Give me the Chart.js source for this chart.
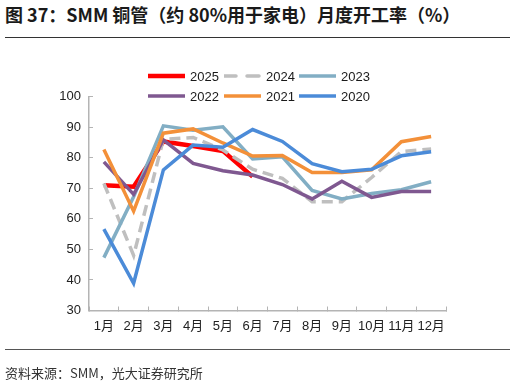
<!DOCTYPE html>
<html>
<head>
<meta charset="utf-8">
<script src="https://cdn.jsdelivr.net/npm/chart.js@4"></script>
<style>
  body { margin: 0; background: #fff; }
  #wrap { position: relative; width: 515px; height: 382px; overflow: hidden; font-family: "Liberation Sans", "Noto Sans CJK SC", sans-serif; }
  #title { position: absolute; left: 5px; top: 3px; font-family: "Noto Sans CJK SC", sans-serif; font-size: 18px; font-weight: bold; color: #1a1a1a; line-height: 22px; white-space: nowrap; }
  .rule { position: absolute; left: 5px; width: 505px; height: 0; border-top: 1px solid #333; }
  #source { position: absolute; left: 5px; top: 364px; font-family: "Noto Sans CJK SC", sans-serif; font-size: 13px; color: #333; line-height: 18px; white-space: nowrap; }
  #legend { position: absolute; left: 148px; top: 66px; display: grid; grid-template-columns: 76px 75px 75px; row-gap: 0; z-index: 2; }
  .item { display: flex; align-items: center; height: 20px; font-size: 13px; color: #1a1a1a; }
  .item svg { margin-right: 5px; }
  canvas { position: absolute; left: 0; top: 0; }
</style>
</head>
<body>
<div id="wrap">
  <div id="title">图 37：SMM 铜管（约 80%用于家电）月度开工率（%）</div>
  <div class="rule" style="top:37px"></div>
  <div id="legend"></div>
  <canvas id="chart" width="515" height="382"></canvas>
  <div class="rule" style="top:349px; border-color:#555"></div>
  <div id="source">资料来源：SMM，光大证券研究所</div>
</div>
<script>
// ========================
// DADOS
// ========================
const months = ['1月', '2月', '3月', '4月', '5月', '6月', '7月', '8月', '9月', '10月', '11月', '12月'];

const y2025 = [71.0, 70.5, 85.3, 83.8, 82.2, 73.8];
const y2024 = [71.6, 48.0, 86.0, 86.6, 82.5, 76.2, 73.2, 65.6, 65.6, 73.5, 82.0, 82.8];
const y2023 = [47.3, 67.2, 90.4, 89.0, 90.1, 79.6, 80.3, 69.3, 66.5, 68.3, 69.5, 72.1];
const y2022 = [78.6, 68.0, 85.8, 78.1, 75.7, 74.3, 71.2, 66.5, 72.3, 67.0, 68.9, 68.9];
const y2021 = [82.7, 62.5, 88.0, 89.4, 84.8, 80.5, 80.7, 75.1, 75.1, 76.0, 85.2, 86.9];
const y2020 = [56.6, 38.9, 76.0, 84.1, 83.4, 89.2, 85.3, 78.0, 75.4, 76.2, 80.6, 81.9];

const seriesNames = ['2025', '2024', '2023', '2022', '2021', '2020'];
const seriesData = [y2025, y2024, y2023, y2022, y2021, y2020];
const seriesColors = ['#ff0000', '#bfbfbf', '#82aec4', '#7f5890', '#f39039', '#4b8bd8'];
const seriesWidths = [4.5, 3.5, 3.5, 3.5, 3.5, 3.5];

const yTicks = [30, 40, 50, 60, 70, 80, 90, 100];

// ========================
// DATASETS
// ========================
const datasets = seriesNames.map((name, i) => ({
    label: name,
    data: seriesData[i],
    borderColor: seriesColors[i],
    backgroundColor: seriesColors[i],
    borderWidth: seriesWidths[i],
    borderDash: name === '2024' ? [11, 6] : [],
    pointRadius: 0,
    tension: 0,
    fill: false,
    // Excel desenha as séries seguintes por cima
    order: seriesNames.length - i
}));

// ========================
// LEGENDA (HTML)
// ========================
const legendEl = document.getElementById('legend');

datasets.forEach(ds => {
    const dash = ds.borderDash.length ? 'stroke-dasharray="12 11"' : '';
    legendEl.insertAdjacentHTML('beforeend', `
        <div class="item">
            <svg width="37" height="8">
                <line x1="0" y1="4" x2="37" y2="4"
                    stroke="${ds.borderColor}"
                    stroke-width="${ds.borderWidth}"
                    stroke-linecap="round" ${dash}></line>
            </svg>${ds.label}
        </div>
    `);
});

// ========================
// GRÁFICO
// ========================
const axisColor = '#b4b4b4';
const tickFont = { family: '"Liberation Sans", "Noto Sans CJK SC", sans-serif', size: 13 };

new Chart(document.getElementById('chart'), {
    type: 'line',
    data: {
        labels: months,
        datasets: datasets
    },
    options: {
        responsive: false,
        animation: false,
        devicePixelRatio: 1,
        layout: {
            padding: { left: 0, right: 69, top: 96.5, bottom: 0 }
        },
        plugins: {
            legend: { display: false },
            tooltip: { enabled: false }
        },
        scales: {
            x: {
                offset: true,
                grid: {
                    display: true,
                    drawOnChartArea: false,
                    drawTicks: true,
                    tickLength: -4,
                    color: axisColor,
                    offset: true
                },
                border: { display: true, color: axisColor, width: 1.5 },
                ticks: {
                    color: '#222',
                    font: tickFont,
                    padding: 12,
                    maxRotation: 0,
                    autoSkip: false
                },
                afterFit(scale) {
                    scale.height = 71.5;
                }
            },
            y: {
                min: 30,
                max: 100,
                afterBuildTicks(scale) {
                    scale.ticks = yTicks.map(v => ({ value: v }));
                },
                grid: {
                    display: true,
                    drawOnChartArea: false,
                    drawTicks: true,
                    tickLength: -4,
                    color: axisColor
                },
                border: { display: true, color: axisColor, width: 1.5 },
                ticks: {
                    color: '#222',
                    font: tickFont,
                    padding: 12
                },
                afterFit(scale) {
                    scale.width = 89;
                }
            }
        }
    }
});
</script>
</body>
</html>
